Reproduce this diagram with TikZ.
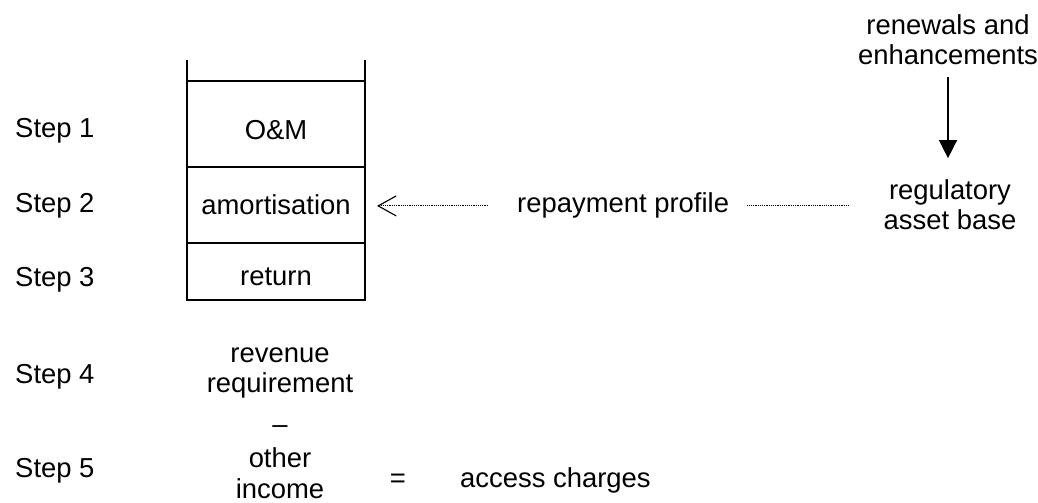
\documentclass[tikz,border=0pt]{standalone}
\usepackage{fontspec}
\setmainfont{Liberation Sans}
\usetikzlibrary{arrows.meta,positioning}
\tikzset{%
    >=stealth, % option for nice arrows
    inner sep=0pt,%
    outer sep=3pt,%
    every node/.style={font=\fontsize{19.5}{22}\selectfont},%
    cell/.style={draw,line width=1pt,outer sep=0pt,minimum width=4.45cm},%
    link/.style={line width=0.7pt,dash pattern=on 0.7pt off 0.6pt}%
    }
\tikzstyle{txt} = [anchor=base, align=center]

\begin{document}
\begin{tikzpicture}[x=0.025cm,y=-0.025cm]
    \useasboundingbox (0,0) rectangle (1038,503);

    % the stack
    \node[cell,minimum height=2.15cm,anchor=north west] (omcell) at (187,81) {};
    \node[cell,minimum height=1.9cm,below=0pt of omcell] (amcell) {};
    \node[cell,minimum height=1.425cm,below=0pt of amcell] (retcell) {};
    \draw[line width=1pt] (omcell.north west) -- ++(0,-21);
    \draw[line width=1pt] (omcell.north east) -- ++(0,-21);

    \node[txt] (om) at (276,140) {O\&M};
    \node[txt] (amort) at (276,215) {amortisation};
    \node[txt] (ret) at (276,286) {return};

    \node[anchor=base west] (s1) at (11,138) {Step 1};
    \node[anchor=base west] (s2) at (11,213) {Step 2};
    \node[anchor=base west] (s3) at (11,287) {Step 3};
    \node[anchor=base west] (s4) at (11,384) {Step 4};
    \node[anchor=base west] (s5) at (11,478) {Step 5};

    % base = last line
    \node[txt] (rev) at (280,393) {revenue\\requirement};
    \node[txt] (minus) at (280,434) {--};
    \node[txt] (oth) at (280,498) {other\\income};
    \node (eq) at (398,481) {=};
    \node[anchor=base west] (acc) at (456,487) {access charges};

    \node[anchor=base west] (repay) at (513,213) {repayment profile};
    \node[txt] (rab) at (950,230) {regulatory\\asset base};
    \node[txt] (ren) at (948,65) {renewals and\\enhancements};

    \draw[link,-{Straight Barb[length=0.45cm,width=0.5cm,line width=0.8pt]},
        shorten <=0.62cm, shorten >=0.3cm] (repay.west) -- (repay.west -| amcell.east);
    \draw[link,shorten <=0.35cm, shorten >=0.75cm] (repay.east) -- (repay.east -| rab.west);
    \draw[line width=1pt,-{Triangle[length=0.45cm,width=0.45cm]},
        shorten <=0.2cm, shorten >=0.42cm] (ren.south) -- (ren.south |- rab.north);
\end{tikzpicture}
\end{document}
